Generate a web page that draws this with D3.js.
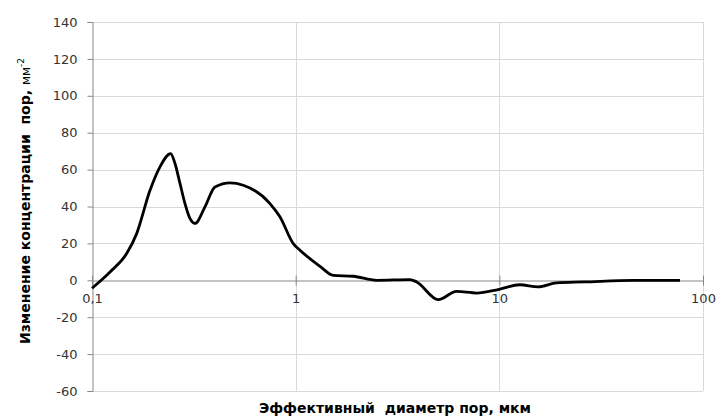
<!DOCTYPE html>
<html>
<head>
<meta charset="utf-8">
<script src="https://cdn.jsdelivr.net/npm/d3@7"></script>
<style>
  html, body { margin: 0; padding: 0; background: #fff; }
  svg { display: block; }
  .title { white-space: pre; }
</style>
</head>
<body>
<svg id="chart" width="717" height="416"></svg>
<script>
// Effective pore diameter, µm (log scale)
const diameter = [0.1, 0.1226, 0.148, 0.1657, 0.1927, 0.2157, 0.2434, 0.2556, 0.2704, 0.2861,
  0.3027, 0.3203, 0.3587, 0.4016, 0.476, 0.553, 0.748, 0.837, 0.973, 1.05, 1.316, 1.53, 1.92, 2.5,
  3.64, 3.93, 5.01, 6.17, 7.74, 9.88, 12.6, 15.5, 19.1, 26.1, 45.4, 77.1];
// Change of pore concentration, mm^-2
const concentration = [-4.3, 4.5, 14.5, 25.3, 48.8, 61.5, 68.7, 63.3, 52.5, 41.6,
  33.5, 30.8, 39.8, 50.6, 52.8, 51.5, 41.6, 34.4, 19.9, 16.3, 7.6, 2.7, 2.2, 0,
  0.4, -0.9, -10.5, -6, -6.9, -5, -2.4, -3.6, -1.4, -0.9, 0, 0];

const xTicks = [0.1, 1, 10, 100];
const xTickLabels = ["0,1", "1", "10", "100"];
const yTicks = [-60, -40, -20, 0, 20, 40, 60, 80, 100, 120, 140];

const svg = d3.select("#chart");
const plotLeft = 92, plotRight = 703, plotTop = 22, plotBottom = 391;

const x = d3.scaleLog().domain([0.1, 100]).range([plotLeft, plotRight]);
const y = d3.scaleLinear().domain([-60, 140]).range([plotBottom, plotTop]);

const font = "'DejaVu Sans', Verdana, sans-serif";

// horizontal gridlines
svg.append("g").selectAll("line").data(yTicks.filter(d => d !== 0)).join("line")
  .attr("x1", plotLeft).attr("x2", plotRight)
  .attr("y1", d => Math.round(y(d)) + 0.5).attr("y2", d => Math.round(y(d)) + 0.5)
  .attr("stroke", "#d9d9d9").attr("stroke-width", 1);

// vertical gridlines at decades
svg.append("g").selectAll("line").data(xTicks.slice(1)).join("line")
  .attr("x1", d => Math.round(x(d)) + 0.5).attr("x2", d => Math.round(x(d)) + 0.5)
  .attr("y1", plotTop).attr("y2", plotBottom)
  .attr("stroke", "#d9d9d9").attr("stroke-width", 1);

// y axis
const yAxis = d3.axisLeft(y).tickValues(yTicks).tickSize(5).tickPadding(10)
  .tickFormat(d => String(d));
const gy = svg.append("g").attr("transform", `translate(${plotLeft + 0.5},0)`).call(yAxis);
gy.select(".domain").attr("stroke", "#868686");
gy.selectAll(".tick line").attr("stroke", "#868686");
gy.selectAll(".tick text").attr("font-family", font).attr("font-size", 13).attr("fill", "#333");

// x axis along zero line
const xAxis = d3.axisBottom(x).tickValues(xTicks).tickSize(0)
  .tickFormat((d, i) => xTickLabels[i]);
const gx = svg.append("g").attr("transform", `translate(0,${Math.round(y(0)) + 0.5})`).call(xAxis);
gx.select(".domain").attr("stroke", "#868686");
gx.selectAll(".tick text").attr("font-family", font).attr("font-size", 13).attr("fill", "#333")
  .attr("dy", "1.5em");
// crossing tick marks
gx.selectAll(".tick").append("line")
  .attr("y1", -5).attr("y2", 5).attr("stroke", "#868686");

// data curve
const line = d3.line()
  .x((d, i) => x(diameter[i]))
  .y(d => y(d))
  .curve(d3.curveMonotoneX);
svg.append("path")
  .attr("d", line(concentration))
  .attr("fill", "none")
  .attr("stroke", "#000")
  .attr("stroke-width", 2.8)
  .attr("stroke-linejoin", "round");

// axis titles
svg.append("text")
  .attr("class", "title")
  .attr("x", 395).attr("y", 413)
  .attr("text-anchor", "middle")
  .attr("font-family", font).attr("font-size", 14).attr("font-weight", "bold")
  .attr("fill", "#000")
  .text("Эффективный  диаметр пор, мкм");

const yt = svg.append("text")
  .attr("class", "title")
  .attr("transform", "translate(30,201) rotate(-90)")
  .attr("text-anchor", "middle")
  .attr("font-family", font).attr("font-size", 14).attr("fill", "#000");
yt.append("tspan").attr("font-weight", "bold").text("Изменение концентрации  пор, ");
yt.append("tspan").attr("font-size", 12).text("мм");
yt.append("tspan").attr("font-size", 9).attr("dy", -6).text("-2");
</script>
</body>
</html>
